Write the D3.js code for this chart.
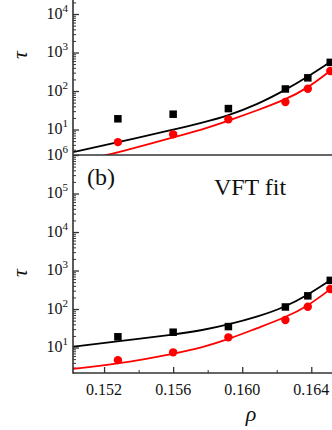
<!DOCTYPE html>
<html>
<head>
<meta charset="utf-8">
<script src="https://cdn.jsdelivr.net/npm/d3@7"></script>
<style>
  body { margin: 0; background: #fff; }
  text { font-family: "Liberation Serif", "Times New Roman", serif; fill: #111; }
</style>
</head>
<body>
<div id="chart"></div>
<script>
// measured data (same points in both panels)
var rho = [0.1528, 0.1560, 0.1592, 0.1625, 0.1638, 0.1651];
var tauSquares = [19, 25, 35, 113, 220, 555];
var tauCircles = [4.7, 7.5, 18.4, 52, 115, 330];

// fit curves
var fitRho = [0.15017, 0.15278, 0.15598, 0.15772, 0.15923, 0.16083, 0.16248, 0.16381, 0.16509];
var fitBlackA = [2.56, 4.68, 9.8, 15.1, 23.4, 43.7, 105, 234, 562];
var fitRedRhoA = [0.15165, 0.15278, 0.15598, 0.15772, 0.15923, 0.16083, 0.16248, 0.16381, 0.16509];
var fitRedA = [1.95, 2.5, 6.2, 10.0, 17.0, 30.9, 58.9, 120, 331];
var fitBlackB = [10.5, 14.5, 21.4, 28.2, 39.8, 61.7, 112, 234, 556];
var fitRedB = [2.8, 3.7, 6.8, 10.1, 16.6, 31.6, 59.4, 120, 324];

var xTicks = [0.152, 0.156, 0.160, 0.164];
var xMinor = [0.154, 0.158, 0.162];
var yTickExp = [1, 2, 3, 4, 5, 6];

var svgWidth = 332, svgHeight = 430;
var axisX = 73;
var xDomain = [0.1502, 0.1652];
var yDomain = [2.18, 1e6];

var svg = d3.select("#chart").append("svg")
  .attr("width", svgWidth)
  .attr("height", svgHeight);

var x = d3.scaleLinear().domain(xDomain).range([axisX, svgWidth]);

// top panel is shifted up (cropped in the picture), bottom panel full
var panels = [
  { top: -63, bottom: 155, black: fitBlackA, redRho: fitRedRhoA, red: fitRedA, id: "a" },
  { top: 155, bottom: 373, black: fitBlackB, redRho: fitRho, red: fitRedB, id: "b" }
];

var minorVals = [];
for (var e = 0; e < 6; e++) {
  for (var m = 2; m <= 9; m++) {
    var v = m * Math.pow(10, e);
    if (v >= yDomain[0]) minorVals.push(v);
  }
}

panels.forEach(function(p) {
  var y = d3.scaleLog().domain(yDomain).range([p.bottom, p.top]);

  svg.append("clipPath").attr("id", "clip-" + p.id)
    .append("rect")
    .attr("x", axisX).attr("y", p.top)
    .attr("width", svgWidth - axisX).attr("height", p.bottom - p.top);

  // y axis ticks (inward)
  svg.append("g")
    .attr("transform", `translate(${axisX},0)`)
    .call(d3.axisRight(y).tickValues(minorVals).tickSize(3).tickFormat(""))
    .call(g => g.select(".domain").remove())
    .selectAll("line").attr("stroke", "#333").attr("stroke-width", 1);

  svg.append("g")
    .attr("transform", `translate(${axisX},0)`)
    .call(d3.axisRight(y).tickValues(yTickExp.map(d => Math.pow(10, d))).tickSize(6).tickFormat(""))
    .call(g => g.select(".domain").remove())
    .selectAll("line").attr("stroke", "#333").attr("stroke-width", 1.3);

  // tick labels 10^n (only those inside the visible picture)
  var lab = svg.append("g").selectAll("text")
    .data(yTickExp.filter(d => y(Math.pow(10, d)) > 8))
    .enter().append("text")
    .attr("x", 68)
    .attr("y", d => y(Math.pow(10, d)) + 4.5)
    .attr("text-anchor", "end")
    .attr("font-size", 16);
  lab.append("tspan").text("10");
  lab.append("tspan").attr("dy", -7).attr("font-size", 11).text(d => d);

  // axis title
  svg.append("text")
    .attr("transform", `translate(27,${p.top + 118}) rotate(-90)`)
    .attr("text-anchor", "middle")
    .attr("font-size", 22)
    .attr("font-style", "italic")
    .text("τ");

  var plot = svg.append("g").attr("clip-path", `url(#clip-${p.id})`);

  var line = d3.line()
    .x(d => x(d[0]))
    .y(d => y(d[1]))
    .curve(d3.curveBasis);

  plot.append("path")
    .attr("d", line(d3.zip(fitRho, p.black)))
    .attr("fill", "none").attr("stroke", "#000").attr("stroke-width", 1.8);

  plot.append("path")
    .attr("d", line(d3.zip(p.redRho, p.red)))
    .attr("fill", "none").attr("stroke", "#ff0000").attr("stroke-width", 1.8);

  var sq = 7.5;
  plot.selectAll(".sq")
    .data(d3.zip(rho, tauSquares))
    .enter().append("rect")
    .attr("x", d => x(d[0]) - sq / 2)
    .attr("y", d => y(d[1]) - sq / 2)
    .attr("width", sq).attr("height", sq)
    .attr("fill", "#000");

  plot.selectAll(".ci")
    .data(d3.zip(rho, tauCircles))
    .enter().append("circle")
    .attr("cx", d => x(d[0]))
    .attr("cy", d => y(d[1]))
    .attr("r", 4.2)
    .attr("fill", "#ff0000");
});

// bottom x axis ticks (inward)
var xBottom = 373;
svg.append("g")
  .attr("transform", `translate(0,${xBottom})`)
  .call(d3.axisTop(x).tickValues(xMinor).tickSize(3).tickFormat(""))
  .call(g => g.select(".domain").remove())
  .selectAll("line").attr("stroke", "#333").attr("stroke-width", 1);

svg.append("g")
  .attr("transform", `translate(0,${xBottom})`)
  .call(d3.axisTop(x).tickValues(xTicks).tickSize(6).tickFormat(""))
  .call(g => g.select(".domain").remove())
  .selectAll("line").attr("stroke", "#333").attr("stroke-width", 1.3);

svg.append("g").selectAll("text")
  .data(xTicks)
  .enter().append("text")
  .attr("x", d => x(d))
  .attr("y", 395)
  .attr("text-anchor", "middle")
  .attr("font-size", 16)
  .text(d => d3.format(".3f")(d));

svg.append("text")
  .attr("x", 251).attr("y", 421)
  .attr("text-anchor", "middle")
  .attr("font-size", 22)
  .attr("font-style", "italic")
  .text("ρ");

// frame lines
svg.append("line")
  .attr("x1", axisX).attr("x2", axisX).attr("y1", 0).attr("y2", xBottom + 0.7)
  .attr("stroke", "#333").attr("stroke-width", 1.6);
svg.append("line")
  .attr("x1", axisX).attr("x2", svgWidth).attr("y1", xBottom).attr("y2", xBottom)
  .attr("stroke", "#333").attr("stroke-width", 1.6);
svg.append("line")
  .attr("x1", axisX).attr("x2", svgWidth).attr("y1", 155).attr("y2", 155)
  .attr("stroke", "#333").attr("stroke-width", 1.6);

// panel annotations
svg.append("text")
  .attr("x", 87).attr("y", 185)
  .attr("font-size", 24)
  .text("(b)");
svg.append("text")
  .attr("x", 250).attr("y", 195)
  .attr("text-anchor", "middle")
  .attr("font-size", 24)
  .text("VFT fit");
</script>
</body>
</html>
